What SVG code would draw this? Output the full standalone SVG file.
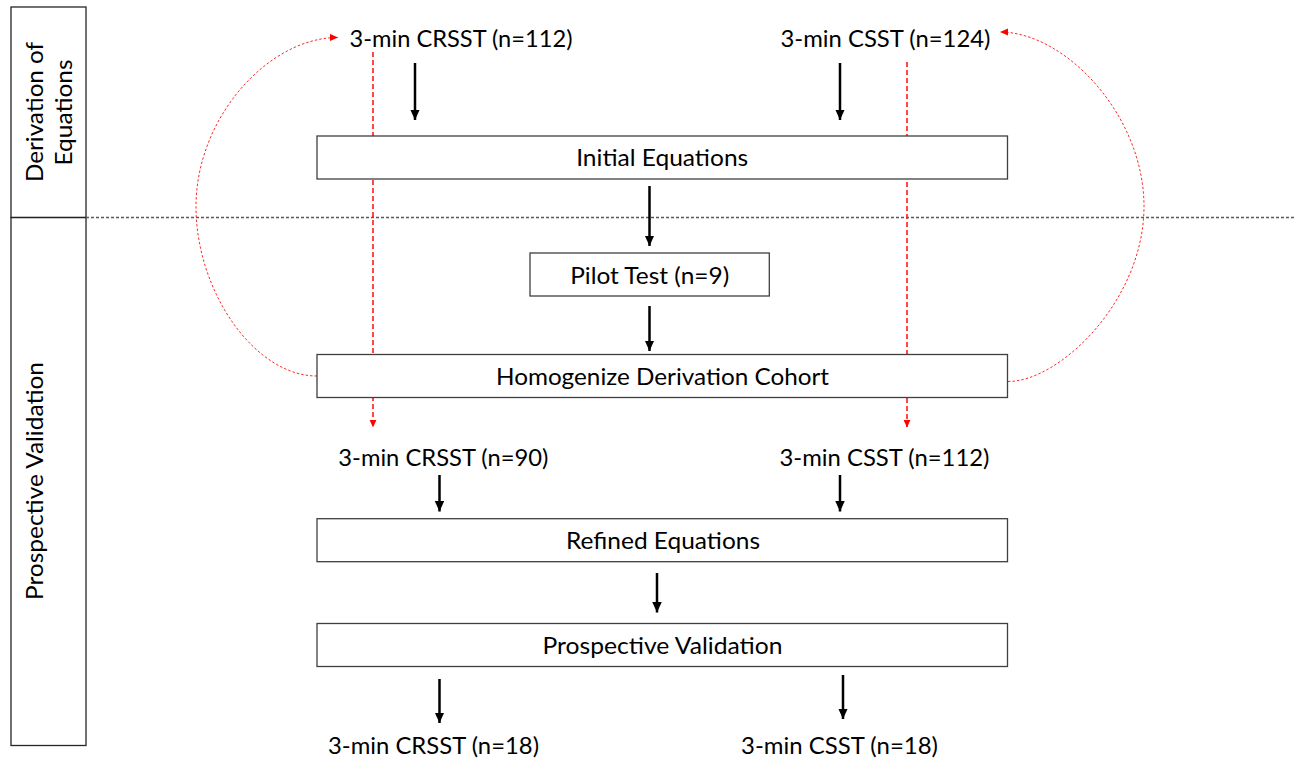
<svg xmlns="http://www.w3.org/2000/svg" width="1303" height="762" viewBox="0 0 1303 762">
<style>
  .lbl { font-family: Lato, "Liberation Sans", "DejaVu Sans", sans-serif; font-size: 24px; fill: #000; }
  .lane { font-family: Lato, "Liberation Sans", "DejaVu Sans", sans-serif; font-size: 24px; fill: #000; }
  .box { fill: #fff; stroke: #3f3f3f; stroke-width: 1.3; }
  .lanebox { fill: none; stroke: #262626; stroke-width: 1.3; }
  .arrow { stroke: #000; stroke-width: 2.5; fill: none; marker-end: url(#ah); }
  .rdash { stroke: #ff1a1a; stroke-width: 1.6; stroke-dasharray: 5 3; fill: none; marker-end: url(#rh); }
  .rdot { stroke: #ff2a2a; stroke-width: 1; stroke-dasharray: 2.5 2; fill: none; marker-end: url(#rh); }
  .sep { stroke: #595959; stroke-width: 1.4; stroke-dasharray: 3 2; fill: none; }
</style>
<defs>
  <marker id="ah" markerUnits="userSpaceOnUse" markerWidth="11" markerHeight="10" refX="10.5" refY="4.75" orient="auto">
    <path d="M0,0 L10.5,4.75 L0,9.5 z" fill="#000"/>
  </marker>
  <marker id="rh" markerUnits="userSpaceOnUse" markerWidth="9" markerHeight="8" refX="8" refY="3.6" orient="auto">
    <path d="M0,0 L8,3.6 L0,7.2 z" fill="#ff0000"/>
  </marker>
</defs>
<rect width="1303" height="762" fill="#fff"/>

<g id="lanes">
  <g id="lane-derivation">
    <rect class="lanebox" x="11" y="7" width="75" height="210.5"/>
    <text class="lane" transform="translate(42.5,112) rotate(-90)" text-anchor="middle" textLength="140" lengthAdjust="spacingAndGlyphs">Derivation of</text>
    <text class="lane" transform="translate(71.5,112.5) rotate(-90)" text-anchor="middle" textLength="106" lengthAdjust="spacingAndGlyphs">Equations</text>
  </g>
  <g id="lane-validation">
    <rect class="lanebox" x="11" y="217.5" width="75" height="528"/>
    <text class="lane" transform="translate(42.5,481) rotate(-90)" text-anchor="middle" textLength="238" lengthAdjust="spacingAndGlyphs">Prospective Validation</text>
  </g>
</g>

<g id="connectors">
  <line class="sep" x1="86" y1="217.5" x2="1295" y2="217.5"/>
  <line class="rdash" x1="373" y1="52" x2="373" y2="427.5"/>
  <line class="rdash" x1="907" y1="62" x2="907" y2="427.5"/>
  <path class="rdot" d="M317,376 C255,376 196,292 196,206.5 C196,118 268,37.5 338,37.5"/>
  <path class="rdot" d="M1008,381.5 C1060,381.5 1144,300 1144,206.5 C1144,115 1065,32 1000,32"/>
  <line class="arrow" x1="415" y1="63" x2="415" y2="120"/>
  <line class="arrow" x1="840" y1="63" x2="840" y2="120"/>
  <line class="arrow" x1="649.5" y1="186" x2="649.5" y2="246"/>
  <line class="arrow" x1="649.5" y1="306" x2="649.5" y2="351"/>
  <line class="arrow" x1="439.5" y1="475" x2="439.5" y2="511.5"/>
  <line class="arrow" x1="840" y1="475" x2="840" y2="511.5"/>
  <line class="arrow" x1="657" y1="573" x2="657" y2="612.5"/>
  <line class="arrow" x1="439.5" y1="679" x2="439.5" y2="723"/>
  <line class="arrow" x1="843" y1="675" x2="843" y2="719"/>
</g>

<g id="crsst-112"><text class="lbl" x="461" y="46.5" text-anchor="middle" textLength="223" lengthAdjust="spacingAndGlyphs">3-min CRSST (n=112)</text></g>
<g id="csst-124"><text class="lbl" x="885.5" y="46.5" text-anchor="middle" textLength="210" lengthAdjust="spacingAndGlyphs">3-min CSST (n=124)</text></g>

<g id="initial-equations">
  <rect class="box" x="317" y="136" width="690.5" height="43"/>
  <text class="lbl" x="662.2" y="165.7" text-anchor="middle" textLength="172" lengthAdjust="spacingAndGlyphs">Initial Equations</text>
</g>
<g id="pilot-test">
  <rect class="box" x="530" y="253" width="239.3" height="43"/>
  <text class="lbl" x="649.7" y="284" text-anchor="middle" textLength="159" lengthAdjust="spacingAndGlyphs">Pilot Test (n=9)</text>
</g>
<g id="homogenize">
  <rect class="box" x="317" y="354.5" width="690.5" height="43"/>
  <text class="lbl" x="662.5" y="385" text-anchor="middle" textLength="333" lengthAdjust="spacingAndGlyphs">Homogenize Derivation Cohort</text>
</g>

<g id="crsst-90"><text class="lbl" x="443.3" y="466" text-anchor="middle" textLength="210" lengthAdjust="spacingAndGlyphs">3-min CRSST (n=90)</text></g>
<g id="csst-112"><text class="lbl" x="884.5" y="466" text-anchor="middle" textLength="210" lengthAdjust="spacingAndGlyphs">3-min CSST (n=112)</text></g>

<g id="refined-equations">
  <rect class="box" x="317" y="518.7" width="690.5" height="43"/>
  <text class="lbl" x="663" y="548.5" text-anchor="middle" textLength="194" lengthAdjust="spacingAndGlyphs">Refined Equations</text>
</g>
<g id="prospective-validation">
  <rect class="box" x="317" y="623.5" width="690.5" height="43"/>
  <text class="lbl" x="662.5" y="653.5" text-anchor="middle" textLength="240" lengthAdjust="spacingAndGlyphs">Prospective Validation</text>
</g>

<g id="crsst-18"><text class="lbl" x="433.5" y="754" text-anchor="middle" textLength="211" lengthAdjust="spacingAndGlyphs">3-min CRSST (n=18)</text></g>
<g id="csst-18"><text class="lbl" x="839.5" y="754" text-anchor="middle" textLength="197" lengthAdjust="spacingAndGlyphs">3-min CSST (n=18)</text></g>
</svg>
